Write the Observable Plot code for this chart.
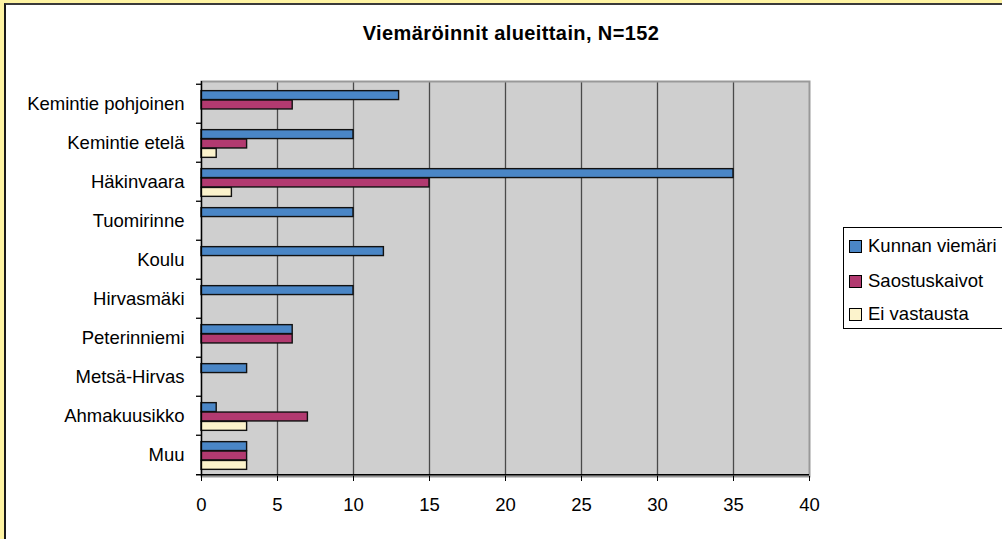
<!DOCTYPE html>
<html>
<head>
<meta charset="utf-8">
<script src="https://cdn.jsdelivr.net/npm/d3@7"></script>
<script src="https://cdn.jsdelivr.net/npm/@observablehq/plot@0.6"></script>
<style>
  html, body { margin: 0; padding: 0; width: 1002px; height: 539px; overflow: hidden; font-family: "Liberation Sans", Arial, sans-serif; }
  #bg { position: absolute; left: 0; top: 0; width: 1002px; height: 539px; background: #FFF4A3; }
  #panel { position: absolute; left: 4px; top: 3px; width: 1010px; height: 560px; background: #fff; border-left: 2px solid #1a1a1a; border-top: 2px solid #3a3a3a; }
  #title { position: absolute; top: 22px; left: 511px; transform: translateX(-50%); font-weight: bold; font-size: 20px; letter-spacing: 0.4px; white-space: nowrap; color: #000; }
  #chart { position: absolute; left: 0; top: 0; }
  #legend { position: absolute; left: 843px; top: 227px; width: 170px; height: 100px; border: 1px solid #000; background: #fff; font-size: 18.5px; }
  .item { position: absolute; left: 5px; height: 20px; white-space: nowrap; }
  .sw { position: absolute; left: 0; top: 4px; width: 11px; height: 11px; border: 1px solid #000; }
  .lbl { position: absolute; left: 19px; top: -1px; }
</style>
</head>
<body>
<div id="bg"></div>
<div id="panel"></div>
<div id="title"></div>
<div id="chart"></div>
<div id="legend"></div>
<script>
const title = "Viemäröinnit alueittain, N=152";
const regions = ["Kemintie pohjoinen", "Kemintie etelä", "Häkinvaara", "Tuomirinne", "Koulu", "Hirvasmäki", "Peterinniemi", "Metsä-Hirvas", "Ahmakuusikko", "Muu"];
const seriesNames = ["Kunnan viemäri", "Saostuskaivot", "Ei vastausta"];
const kunnanViemari = [13, 10, 35, 10, 12, 10, 6, 3, 1, 3];
const saostuskaivot = [6, 3, 15, 0, 0, 0, 6, 0, 7, 3];
const eiVastausta = [0, 1, 2, 0, 0, 0, 0, 0, 3, 3];
const xTicks = [0, 5, 10, 15, 20, 25, 30, 35, 40];
const colors = ["#4A86C6", "#B23A70", "#FCF3CC"];

document.getElementById("title").textContent = title;

const rows = (vals) => regions.map((r, i) => ({region: r, value: vals[i]})).filter(d => d.value > 0);
const seriesValues = [kunnanViemari, saostuskaivot, eiVastausta];

const band = 39.5, barH = 9.4, inset = (band - barH) / 2;
const offsets = [-barH + 1, 1, barH + 1];

const barMarks = seriesValues.map((vals, k) =>
  Plot.barX(rows(vals), {
    y: "region", x: "value", fill: colors[k], stroke: "#111", strokeWidth: 1.4,
    insetTop: inset, insetBottom: inset, dy: offsets[k]
  })
);

const chart = Plot.plot({
  width: 1002, height: 539,
  marginLeft: 201, marginRight: 193, marginTop: 81, marginBottom: 63,
  style: {background: "transparent", fontFamily: "'Liberation Sans', Arial, sans-serif", fontSize: "18px", color: "#000"},
  x: {domain: [0, 40]},
  y: {domain: regions, padding: 0},
  marks: [
    Plot.frame({fill: "#CFCFCF", stroke: null}),
    Plot.ruleX(xTicks.filter(t => t > 0 && t < 40), {stroke: "#4a4a4a", strokeWidth: 1.3}),
    Plot.frame({stroke: "#999", strokeWidth: 2}),
    ...barMarks,
    Plot.ruleX([0], {stroke: "#000", strokeWidth: 1.3}),
    Plot.ruleY(regions, {y: d => d, x1: -0.33, x2: 0, dy: -band / 2, stroke: "#000", strokeWidth: 1.3}),
    Plot.ruleY([regions[regions.length - 1]], {y: d => d, x1: -0.33, x2: 40, dy: band / 2, stroke: "#000", strokeWidth: 1.3}),
    Plot.axisX({ticks: xTicks, tickSize: 5, tickPadding: 16, label: null, fontSize: 18.5}),
    Plot.axisY({tickSize: 0, tickPadding: 17, label: null, fontSize: 18.5})
  ]
});
document.getElementById("chart").appendChild(chart);

const legend = document.getElementById("legend");
const rowTops = [8, 43, 76];
seriesNames.forEach((name, k) => {
  const it = document.createElement("div");
  it.className = "item";
  it.style.top = rowTops[k] + "px";
  const sw = document.createElement("div");
  sw.className = "sw";
  sw.style.background = colors[k];
  const lb = document.createElement("div");
  lb.className = "lbl";
  lb.textContent = name;
  it.appendChild(sw); it.appendChild(lb);
  legend.appendChild(it);
});
</script>
</body>
</html>
